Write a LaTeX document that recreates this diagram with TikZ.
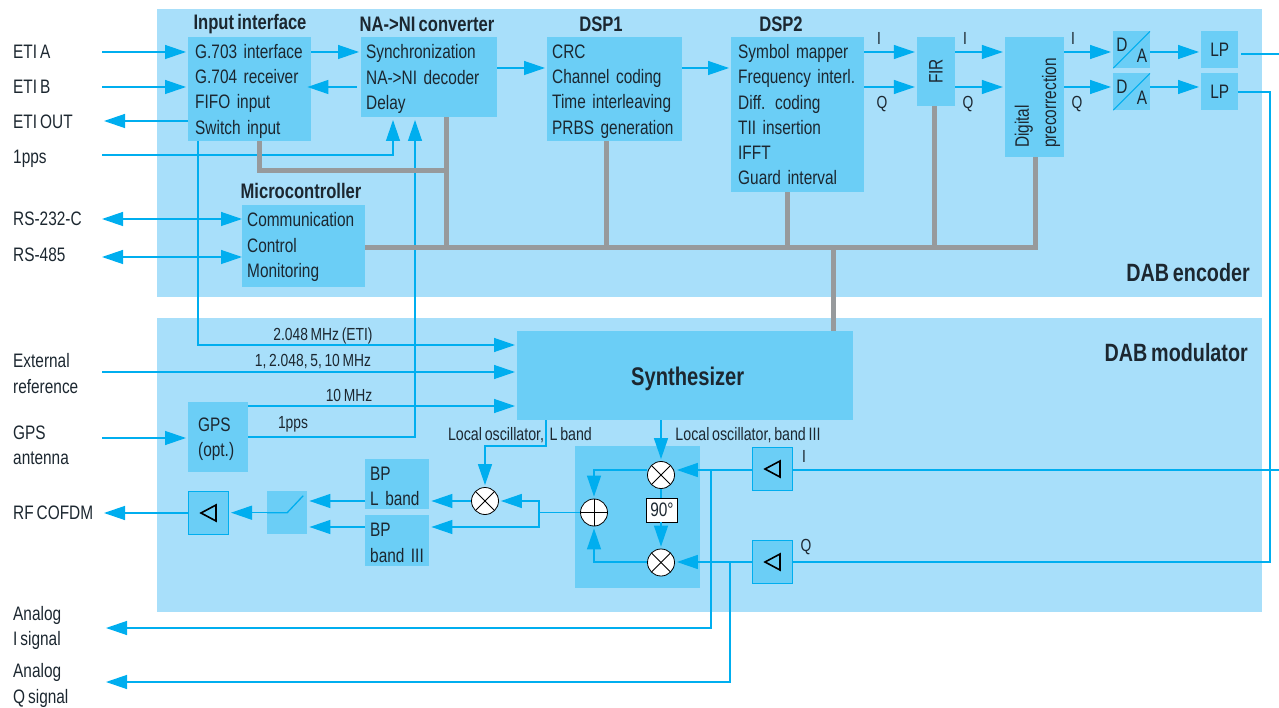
\documentclass[tikz,border=0pt]{standalone}
\usepackage{fontspec}
\setmainfont[FakeStretch=0.79, WordSpace=0.7]{Liberation Sans}
\usetikzlibrary{arrows.meta, positioning, calc}
\definecolor{panelc}{HTML}{A8DFFA}
\definecolor{blockc}{HTML}{6BCEF6}
\definecolor{wirec}{HTML}{00AEEF}
\definecolor{busc}{HTML}{979A9C}
\definecolor{textc}{HTML}{1C2730}
\tikzset{
    every node/.style={font=\fontsize{19.5}{25.3}\selectfont, text=textc},
    panel/.style={rectangle, fill=panelc, anchor=north west, inner sep=0},
    block/.style={rectangle, fill=blockc, anchor=north west, inner sep=0, align=left},
    listing/.style={block, execute at begin node={\rule{0pt}{#1}}},
    listing/.default=18pt,
    lab/.style={anchor=west, inner sep=0, align=left},
    title/.style={inner sep=0, font=\fontsize{21}{24}\selectfont\bfseries},
    small/.style={inner sep=0, font=\fontsize{17.5}{20}\selectfont},
    wire/.style={draw=wirec, line width=1.3pt, shorten >=2pt, -{Triangle[length=21pt,width=14pt]}},
    both/.style={draw=wirec, line width=1.3pt, {Triangle[length=21pt,width=14pt]}-{Triangle[length=21pt,width=14pt]}},
    line/.style={draw=wirec, line width=1.3pt},
    bus/.style={draw=busc, line width=5pt},
    mixer/.style={circle, draw=black, fill=white, thick, minimum size=27pt, inner sep=0, path picture={
        \draw[black, thick] (path picture bounding box.north west) -- (path picture bounding box.south east);
        \draw[black, thick] (path picture bounding box.north east) -- (path picture bounding box.south west);}},
    adder/.style={circle, draw=black, fill=white, thick, minimum size=27pt, inner sep=0, path picture={
        \draw[black, thick] (path picture bounding box.north) -- (path picture bounding box.south);
        \draw[black, thick] (path picture bounding box.east) -- (path picture bounding box.west);}},
    amp/.style={rectangle, fill=blockc, draw=wirec, line width=1pt, anchor=north west, inner sep=0, minimum width=40pt, minimum height=43pt, path picture={
        \draw[black, line width=1.6pt] ($(path picture bounding box.center)+(-7.5,0)$) -- ++(15,-8) -- ++(0,16) -- cycle;}},
    dac/.style={rectangle, fill=blockc, anchor=north west, inner sep=0, minimum size=37pt, path picture={
        \draw[wirec, line width=1pt] (path picture bounding box.south west) -- (path picture bounding box.north east);}}
}
\begin{document}
\begin{tikzpicture}[x=1pt, y=-1pt]
    \useasboundingbox (0,0) rectangle (1279,708);

    % Panels
    \node[panel, minimum width=1105, minimum height=288] (encoder) at (157,9) {};
    \node[panel, minimum width=1105, minimum height=294] (modulator) at (157,318) {};
    \node[block, minimum width=125, minimum height=142] (iqmod) at (575,446) {};

    % Encoder blocks
    \node[listing, minimum height=104, text width=109, inner xsep=7] (input) at (188,37) {G.703 interface\\G.704 receiver\\FIFO input\\Switch input};
    \node[listing, minimum height=80, text width=126, inner xsep=5] (conv) at (361,37) {Synchronization\\NA->NI decoder\\Delay};
    \node[listing, minimum height=104, text width=125, inner xsep=5] (dspa) at (547,37) {CRC\\Channel coding\\Time interleaving\\PRBS generation};
    \node[listing=14pt, minimum height=155, text width=119, inner xsep=7] (dspb) at (731,37) {Symbol mapper\\Frequency interl.\\Diff. coding\\TII insertion\\IFFT\\Guard interval};
    \node[listing=16pt, minimum height=82, text width=113, inner xsep=5] (micro) at (242,205) {Communication\\Control\\Monitoring};
    \node[block, minimum width=69, minimum height=38, rotate=90, anchor=center, align=center] (fir) at (936,71.5) {FIR};
    \node[listing=20pt, minimum height=59, text width=102, rotate=90, anchor=center, inner xsep=9] (predist) at (1034.5,97) {Digital\\[2pt]precorrection};
    \node[dac] (daa) at (1113,31) {};
    \node[dac] (dab) at (1113,73) {};
    \node[block, minimum size=37, align=center] (lpa) at (1201,31) {LP};
    \node[block, minimum size=37, align=center] (lpb) at (1201,73) {LP};
    \node[inner sep=0] (daad) at (1122,45) {D};
    \node[inner sep=0] (daaa) at (1142,56) {A};
    \node[inner sep=0] (dabd) at (1122,87) {D};
    \node[inner sep=0] (daba) at (1142,98) {A};

    % Modulator blocks
    \node[block, minimum width=336, minimum height=89, align=center, font=\fontsize{25.5}{28}\selectfont\bfseries] (synth) at (517,331) {\rule{0pt}{25pt}\hspace{5pt}Synthesizer};
    \node[listing, minimum height=70, text width=40, inner xsep=10] (gps) at (188,402) {GPS\\(opt.)};
    \node[listing, minimum height=50, text width=54, inner xsep=5] (bpl) at (365,459) {BP\\L band};
    \node[listing, minimum height=51, text width=54, inner xsep=5] (bpb) at (365,515) {BP\\band III};
    \node[block, minimum width=40, minimum height=43] (switch) at (267,491) {};
    \node[amp] (amprf) at (188,491) {};
    \node[amp] (ampi) at (752,447) {};
    \node[amp] (ampq) at (752,540) {};
    \node[mixer] (mixl) at (485,501) {};
    \node[mixer] (mixi) at (661,475) {};
    \node[mixer] (mixq) at (661,562.5) {};
    \node[adder] (sum) at (594,512.5) {};
    \node[rectangle, draw=black, fill=white, inner sep=0, minimum width=31, minimum height=24] (shift) at (662,510) {90°};

    % Free ends of the connectors
    \coordinate (etiaend) at (102,52);
    \coordinate (etibend) at (102,87);
    \coordinate (etiout) at (102,121);
    \coordinate (ppsend) at (102,155);
    \coordinate (rsaend) at (102,219);
    \coordinate (rsbend) at (102,257);
    \coordinate (extend) at (102,372);
    \coordinate (antend) at (102,438);
    \coordinate (rfend) at (102,513);
    \coordinate (analogi) at (104,628);
    \coordinate (analogq) at (104,682);
    \coordinate (lpaout) at (1279,54);
    \coordinate (ampiout) at (1279,470);
    \coordinate (qturn) at (1270,92);
    \coordinate (ppsup) at (393,118);
    \coordinate (gpsup) at (415,118);
    \coordinate (busb) at (446,171);
    \coordinate (buscross) at (833,248);
    \coordinate (split) at (539,512.5);
    \coordinate (tapi) at (711,470);
    \coordinate (tapq) at (730,562);
    \coordinate (tapeti) at (198,141);
    \coordinate (taplo) at (546,420);
    \coordinate (loturn) at (485,446);

    % Signal connectors
    \draw[wire] (etiaend) -- (etiaend -| input.west);
    \draw[wire] (etibend) -- (etibend -| input.west);
    \draw[wire] (etiout -| input.west) -- (etiout);
    \draw[wire] (ppsend) -| (ppsup);
    \draw[both] (rsaend) -- (rsaend -| micro.west);
    \draw[both] (rsbend) -- (rsbend -| micro.west);
    \draw[wire] (input.east |- etiaend) -- (conv.west |- etiaend);
    \draw[wire] ($(conv.west |- etibend)+(-4,0)$) -- ($(input.east |- etibend)+(-6,0)$);
    \draw[wire] (conv.east |- 0,68) -- (dspa.west |- 0,68);
    \draw[wire] (dspa.east |- 0,68) -- (dspb.west |- 0,68);
    \foreach \y in {52,87} {
        \draw[wire] (dspb.east |- 0,\y) -- (fir.north |- 0,\y);
        \draw[wire] (fir.south |- 0,\y) -- (predist.north |- 0,\y);
        \draw[wire] (predist.south |- 0,\y) -- (daa.west |- 0,\y);
        \draw[wire] (daa.east |- 0,\y) -- (lpa.west |- 0,\y);
    }
    \draw[line] ($(lpa.east |- lpaout)+(3,0)$) -- (lpaout);
    \draw[line] (lpb.east |- qturn) -- (qturn) |- (ampq.east);
    \draw[line] (ampi.east |- ampiout) -- (ampiout);

    % Clock connectors
    \draw[wire] (tapeti) |- (synth.west |- 0,345);
    \draw[wire] (extend) -- (synth.west |- extend);
    \draw[wire] (gps.east |- 0,406) -- (synth.west |- 0,406);
    \draw[wire] (antend) -- (gps.west |- antend);
    \draw[wire] (gps.east |- 0,437) -| (gpsup);
    \draw[wire] (synth.south -| mixi) -- (mixi);
    \draw[wire] (taplo) |- (loturn) -- (mixl);

    % RF path
    \draw[wire] (ampi.west |- ampiout) -- (mixi.east |- ampiout);
    \draw[wire] (ampq.west |- tapq) -- (mixq.east |- tapq);
    \draw[wire] (tapi) |- (analogi);
    \draw[wire] (tapq) |- (analogq);
    \draw[wire] (mixi.west |- ampiout) -| (sum);
    \draw[wire] (mixq.west |- tapq) -| (sum);
    \draw[line] (mixi) -- (shift.north -| mixi);
    \draw[wire] (shift.south -| mixq) -- (mixq);
    \draw[line] (sum) -- (split);
    \draw[wire] (split) |- (mixl);
    \draw[wire] (split) |- (bpb.east |- 0,527);
    \draw[wire] (mixl) -- (bpl.east |- mixl);
    \draw[wire] (bpl.west |- mixl) -- (switch.east |- mixl);
    \draw[wire] (bpb.west |- 0,527) -- (switch.east |- 0,527);
    \draw[wire] (switch.center) -- (amprf.east |- switch.center);
    \draw[line] (switch.west) -- (switch.center) -- ++(16,-17);
    \draw[wire] (amprf) -- (rfend);

    % Control bus
    \draw[bus] (micro.east |- buscross) -| (1035,0 |- predist.west);
    \draw[bus] (259,0 |- input.south) |- (busb);
    \draw[bus] (busb |- conv.south) -- (busb |- buscross);
    \draw[bus] (606,0 |- dspa.south) -- (606,0 |- buscross);
    \draw[bus] (787,0 |- dspb.south) -- (787,0 |- buscross);
    \draw[bus] (934,0 |- fir.west) -- (934,0 |- buscross);
    \draw[bus] (buscross) -- (buscross |- synth.north);

    % Titles
    \node[title] (tinput) at (250,24) {Input interface};
    \node[title] (tconv) at (427,24) {NA->NI converter};
    \node[title] (tdspa) at (601,24) {DSP1};
    \node[title] (tdspb) at (781,24) {DSP2};
    \node[title] (tmicro) at (301,191) {Microcontroller};
    \node[title, anchor=east, font=\fontsize{25}{28}\selectfont\bfseries] (tenc) at (1250,273) {DAB encoder};
    \node[title, anchor=east, font=\fontsize{25}{28}\selectfont\bfseries] (tmod) at (1248,353) {DAB modulator};

    % Outer labels
    \node[lab] (etia) at (13,52) {ETI A};
    \node[lab] (etib) at (13,87) {ETI B};
    \node[lab] (etic) at (13,122) {ETI OUT};
    \node[lab] (pps) at (13,158.5) {1pps};
    \node[lab] (rsa) at (13,219) {RS-232-C};
    \node[lab] (rsb) at (13,255) {RS-485};
    \node[lab] (extref) at (13,373.5) {External\\reference};
    \node[lab] (gpsant) at (13,445) {GPS\\antenna};
    \node[lab] (rfout) at (13,512.5) {RF COFDM};
    \node[lab] (sigi) at (13,628) {Analog\\I signal};
    \node[lab] (sigq) at (13,685.5) {Analog\\Q signal};

    % Signal labels
    \node[small] (fa) at (323,336) {2.048 MHz (ETI)};
    \node[small] (fb) at (313,362) {1, 2.048, 5, 10 MHz};
    \node[small] (fc) at (349,395) {10 MHz};
    \node[small] (fd) at (293,424) {1pps};
    \node[small, font=\fontsize{18}{20}\selectfont] (loa) at (520,435) {Local oscillator,\ \ L band};
    \node[small, font=\fontsize{18}{20}\selectfont] (lob) at (748,435) {Local oscillator, band III};
    \node[small] (ia) at (879,38) {I};
    \node[small] (qa) at (882,104) {Q};
    \node[small] (ib) at (965,38) {I};
    \node[small] (qb) at (968,104) {Q};
    \node[small] (ic) at (1073,38) {I};
    \node[small] (qc) at (1077,104) {Q};
    \node[small] (id) at (804,456) {I};
    \node[small] (qd) at (806,547) {Q};
\end{tikzpicture}
\end{document}
